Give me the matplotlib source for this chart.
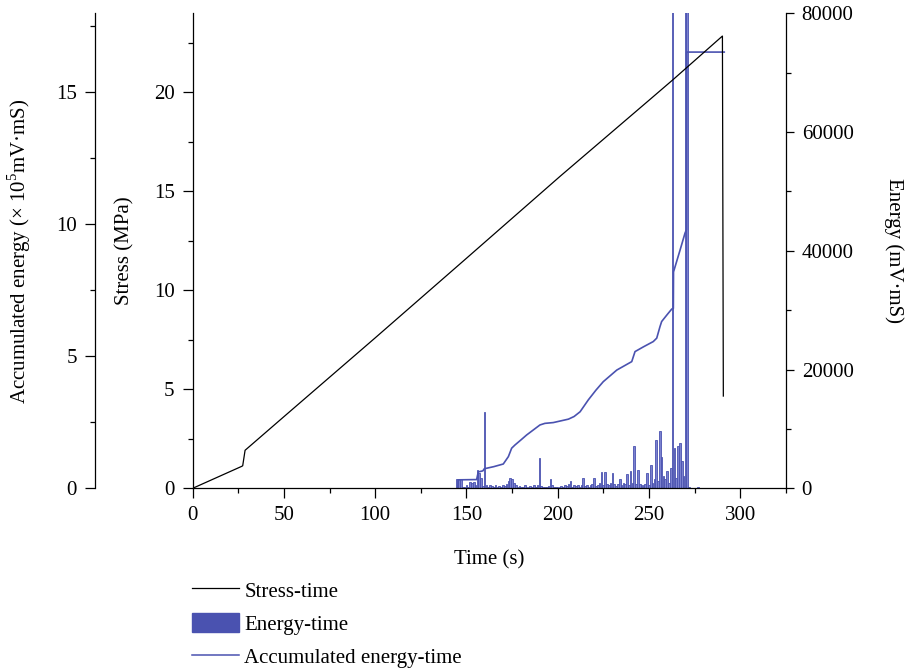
import matplotlib
matplotlib.use("Agg")
import matplotlib.pyplot as plt
from matplotlib.ticker import MultipleLocator
from matplotlib.patches import Patch
from matplotlib.lines import Line2D

plt.rcParams['font.family'] = 'Liberation Serif'
plt.rcParams['mathtext.fontset'] = 'custom'
plt.rcParams['mathtext.rm'] = 'Liberation Serif'

# ---------------------------------------------------------------
# data
# ---------------------------------------------------------------
# stress-time (MPa)
stress_t = [0, 26.9, 27.4, 28.7, 50, 100, 150, 201.3, 250, 263.4, 290.3, 290.8]
stress = [0, 1.11, 1.14, 1.92, 3.62, 7.6, 11.62, 15.76, 19.6, 20.66, 22.85, 4.66]

# energy-time (mV.mS), one bar per second
energy_t = list(range(145, 273)) + [277, 281, 285, 289]
energy = [
    1600, 1600, 1500, 300, 200, 500, 250, 1000, 900, 1060,      # 145-154
    600, 3100, 2500, 1800, 400, 12900, 500, 300, 600, 400,      # 155-164
    300, 500, 200, 400, 300, 600, 400, 800, 1200, 1800,         # 165-174
    1600, 900, 500, 300, 400, 200, 300, 500, 300, 200,          # 175-184
    400, 300, 600, 300, 500, 5100, 400, 300, 200, 300,          # 185-194
    400, 1500, 600, 300, 200, 300, 200, 400, 300, 500,          # 195-204
    400, 700, 1200, 300, 500, 400, 600, 300, 500, 1700,         # 205-214
    400, 600, 300, 500, 700, 1700, 400, 600, 900, 2800,         # 215-224
    600, 2750, 800, 500, 900, 2640, 700, 400, 800, 1500,        # 225-234
    600, 900, 700, 2400, 600, 2900, 900, 7100, 700, 3100,       # 235-244
    800, 600, 500, 700, 2500, 600, 4000, 900, 1500, 8200,       # 245-254
    1200, 9600, 5300, 2100, 1500, 2900, 900, 3500, 95000, 6850, # 255-264
    1800, 7100, 7700, 4600, 2000, 95000, 95000, 300,            # 265-272
    150, 100, 120, 80,                                          # after failure
]

# accumulated energy (x 10^5 mV.mS)
acc_t = [145.3, 145.4, 155.6, 156.5, 159.0, 159.8, 165, 170.2, 173, 174.8,
         176.6, 180, 183, 190.3, 193, 197.6, 205.9, 209, 212.3, 216.8,
         221, 225.0, 232.4, 240.6, 242.4, 247, 252.4, 254.3, 256.1, 257.0,
         260, 262.5, 263.4, 263.5, 267.1, 269.8, 270.6, 270.7, 291.3]
acc = [0, 0.32, 0.33, 0.62, 0.66, 0.74, 0.82, 0.92, 1.2, 1.52,
       1.64, 1.84, 2.02, 2.40, 2.46, 2.49, 2.62, 2.72, 2.90, 3.35,
       3.72, 4.04, 4.48, 4.80, 5.18, 5.36, 5.56, 5.69, 6.13, 6.32,
       6.58, 6.79, 6.82, 8.2, 9.03, 9.67, 9.8, 16.53, 16.53]

blue = '#4a52b0'
fs = 15

fig = plt.figure(figsize=(9.09, 6.71), dpi=100)
ax = fig.add_axes([0.2120, 0.2723, 0.6524, 0.7079])
ax_e = ax.twinx()
ax_acc = ax.twinx()

# energy bars (right axis)
ax_e.bar(energy_t, energy, width=0.9, facecolor='#7b81cf', edgecolor=blue, linewidth=0.6)
ax_e.set_ylim(0, 80000)

# accumulated energy (outer left axis)
ax_acc.plot(acc_t, acc, color=blue, linewidth=1.2)
ax_acc.set_ylim(0, 18)

# stress (inner left axis), drawn on top
ax.plot(stress_t, stress, color='black', linewidth=0.9)
ax.set_xlim(0, 325)
ax.set_ylim(0, 24)
ax.set_zorder(3)
ax.patch.set_visible(False)

# spines
for a in (ax, ax_e, ax_acc):
    for s in a.spines.values():
        s.set_visible(False)
        s.set_linewidth(0.9)
ax.spines['left'].set_visible(True)
ax.spines['bottom'].set_visible(True)
ax_e.spines['right'].set_visible(True)
ax_acc.spines['left'].set_visible(True)
ax_acc.spines['left'].set_position(('axes', -0.1648))
ax_acc.yaxis.set_ticks_position('left')
ax_acc.yaxis.set_label_position('left')

# ticks
ax.xaxis.set_major_locator(MultipleLocator(50))
ax.xaxis.set_minor_locator(MultipleLocator(25))
ax.yaxis.set_major_locator(MultipleLocator(5))
ax.yaxis.set_minor_locator(MultipleLocator(2.5))
ax_acc.yaxis.set_major_locator(MultipleLocator(5))
ax_acc.yaxis.set_minor_locator(MultipleLocator(2.5))
ax_e.yaxis.set_major_locator(MultipleLocator(20000))
ax_e.yaxis.set_minor_locator(MultipleLocator(10000))

for a in (ax, ax_e, ax_acc):
    a.tick_params(which='major', direction='out', length=7, width=0.9, labelsize=fs, pad=6)
    a.tick_params(which='minor', direction='out', length=3.6, width=0.9)
ax_e.tick_params(which='major', length=5.5)

# labels
ax.set_xlabel('Time (s)', fontsize=fs)
ax.xaxis.set_label_coords(0.5, -0.13)
ax.set_ylabel('Stress (MPa)', fontsize=fs)
ax.yaxis.set_label_coords(-0.098, 0.5)
ax_acc.set_ylabel('Accumulated energy (× 10$^5$mV·mS)', fontsize=fs)
ax_acc.yaxis.set_label_coords(-0.27, 0.5)
ax_e.set_ylabel('Energy (mV·mS)', fontsize=fs, rotation=270, va='bottom')
ax_e.yaxis.set_label_coords(1.165, 0.5)

# legend below the plot
handles = [
    Line2D([], [], color='black', linewidth=0.9),
    Patch(facecolor=blue, edgecolor=blue),
    Line2D([], [], color=blue, linewidth=1.1),
]
labels = ['Stress-time', 'Energy-time', 'Accumulated energy-time']
fig.legend(handles, labels, loc='upper left', bbox_to_anchor=(0.2109, 0.136),
           frameon=False, fontsize=fs, handlelength=2.25, handleheight=1.05,
           handletextpad=0.28, labelspacing=0.55, borderpad=0, borderaxespad=0)

fig.savefig('out.png', dpi=100)
